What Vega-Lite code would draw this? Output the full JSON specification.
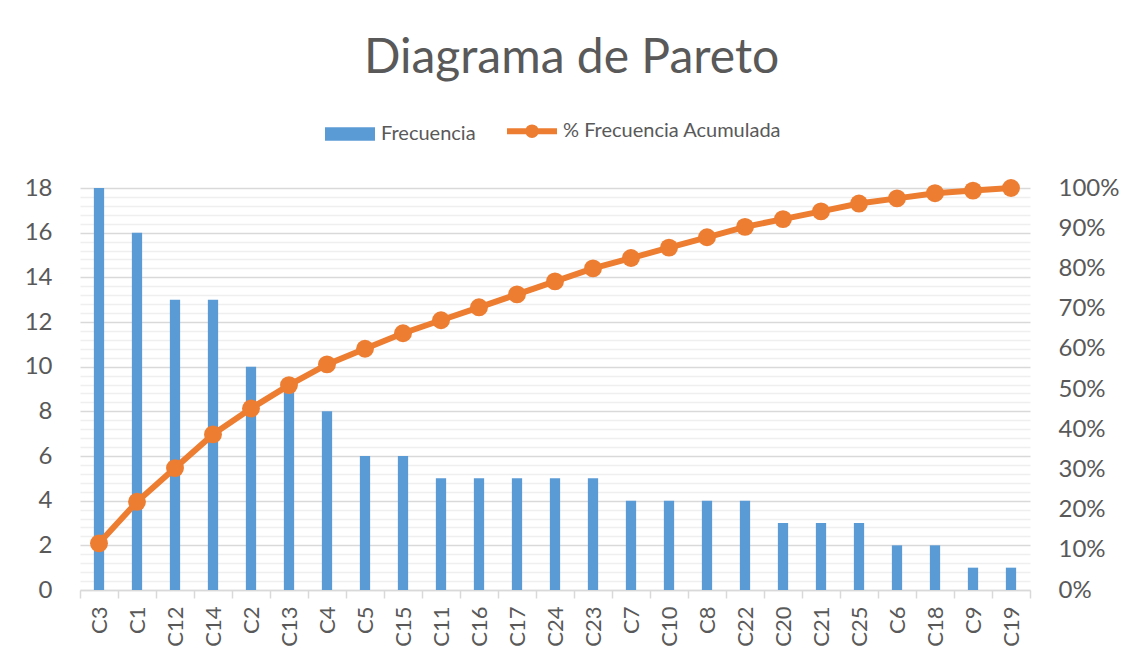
{
  "$schema": "https://vega.github.io/schema/vega-lite/v6.json",
  "autosize": "none",
  "width": 950,
  "height": 402,
  "padding": {"left": 80, "top": 188, "right": 104, "bottom": 78},
  "background": "white",
  "title": {"text": "Diagrama de Pareto", "font": "Lato", "fontSize": 48, "fontWeight": "normal", "color": "#595959", "anchor": "middle", "frame": "bounds", "offset": 38},
  "data": {"values": [
    {"cat": "C3", "freq": 18, "pct": 0.1161},
    {"cat": "C1", "freq": 16, "pct": 0.2194},
    {"cat": "C12", "freq": 13, "pct": 0.3032},
    {"cat": "C14", "freq": 13, "pct": 0.3871},
    {"cat": "C2", "freq": 10, "pct": 0.4516},
    {"cat": "C13", "freq": 9, "pct": 0.5097},
    {"cat": "C4", "freq": 8, "pct": 0.5613},
    {"cat": "C5", "freq": 6, "pct": 0.6},
    {"cat": "C15", "freq": 6, "pct": 0.6387},
    {"cat": "C11", "freq": 5, "pct": 0.671},
    {"cat": "C16", "freq": 5, "pct": 0.7032},
    {"cat": "C17", "freq": 5, "pct": 0.7355},
    {"cat": "C24", "freq": 5, "pct": 0.7677},
    {"cat": "C23", "freq": 5, "pct": 0.8},
    {"cat": "C7", "freq": 4, "pct": 0.8258},
    {"cat": "C10", "freq": 4, "pct": 0.8516},
    {"cat": "C8", "freq": 4, "pct": 0.8774},
    {"cat": "C22", "freq": 4, "pct": 0.9032},
    {"cat": "C20", "freq": 3, "pct": 0.9226},
    {"cat": "C21", "freq": 3, "pct": 0.9419},
    {"cat": "C25", "freq": 3, "pct": 0.9613},
    {"cat": "C6", "freq": 2, "pct": 0.9742},
    {"cat": "C18", "freq": 2, "pct": 0.9871},
    {"cat": "C9", "freq": 1, "pct": 0.9935},
    {"cat": "C19", "freq": 1, "pct": 1.0}
  ]},
  "encoding": {
    "x": {"field": "cat", "type": "nominal", "sort": null, "title": null,
      "scale": {"paddingInner": 0, "paddingOuter": 0},
      "axis": {"labelAngle": -90, "labelFont": "Lato", "labelFontSize": 22, "labelColor": "#595959", "labelPadding": 8,
        "domainColor": "#D9D9D9", "domainWidth": 1.5, "tickColor": "#D9D9D9", "tickWidth": 1.5, "tickSize": 8, "tickBand": "extent", "grid": false}}
  },
  "layer": [
    {
      "mark": {"type": "bar", "width": {"band": 0.27}, "color": "#5B9BD5"},
      "encoding": {
        "y": {"field": "freq", "type": "quantitative", "title": null,
          "scale": {"domain": [0, 18], "nice": false},
          "axis": {"orient": "left", "domain": false, "ticks": false, "labelFont": "Lato", "labelFontSize": 24, "labelColor": "#595959", "labelPadding": 28,
            "format": ".0f",
            "values": [0,0.4,0.8,1.2,1.6,2,2.4,2.8,3.2,3.6,4,4.4,4.8,5.2,5.6,6,6.4,6.8,7.2,7.6,8,8.4,8.8,9.2,9.6,10,10.4,10.8,11.2,11.6,12,12.4,12.8,13.2,13.6,14,14.4,14.8,15.2,15.6,16,16.4,16.8,17.2,17.6,18],
            "labelExpr": "datum.value % 2 === 0 ? datum.label : ''",
            "grid": true,
            "gridColor": {"condition": {"test": "datum.value % 2 === 0", "value": "#D9D9D9"}, "value": "#EFEFEF"},
            "gridWidth": 1.5}},
        "color": {"datum": "Frecuencia", "type": "nominal",
          "scale": {"domain": ["Frecuencia", "% Frecuencia Acumulada"], "range": ["#5B9BD5", "#ED7D31"]},
          "legend": {"title": null, "orient": "none", "direction": "horizontal", "legendX": 260, "legendY": -67,
            "labelFont": "Lato", "labelFontSize": 20, "labelColor": "#595959", "labelOffset": 21, "columnPadding": 19, "labelLimit": 500,
            "symbolSize": 2500,
            "encode": {"symbols": {"update": {
              "shape": {"signal": "datum.value === 'Frecuencia' ? 'M-1,-0.27H1V0.27H-1Z' : 'M-1,0H1M0.15,0A0.15,0.15 0 1 1 -0.15,0A0.15,0.15 0 1 1 0.15,0'"},
              "size": {"value": 2500},
              "fill": {"signal": "datum.value === 'Frecuencia' ? '#5B9BD5' : '#ED7D31'"},
              "stroke": {"signal": "datum.value === 'Frecuencia' ? '#5B9BD5' : '#ED7D31'"},
              "strokeWidth": {"signal": "datum.value === 'Frecuencia' ? 0 : 6"},
              "opacity": {"value": 1}, "fillOpacity": {"value": 1}, "strokeOpacity": {"value": 1}
            }}}}}
      }
    },
    {
      "mark": {"type": "line", "color": "#ED7D31", "strokeWidth": 6, "point": {"size": 320, "filled": true, "color": "#ED7D31", "opacity": 1}},
      "encoding": {
        "y": {"field": "pct", "type": "quantitative", "title": null,
          "scale": {"domain": [0, 1], "nice": false},
          "axis": {"orient": "right", "domain": false, "ticks": false, "grid": false, "format": ".0%",
            "values": [0,0.1,0.2,0.3,0.4,0.5,0.6,0.7,0.8,0.9,1],
            "labelFont": "Lato", "labelFontSize": 24, "labelColor": "#595959", "labelPadding": 28}},
        "color": {"datum": "% Frecuencia Acumulada", "type": "nominal"}
      }
    }
  ],
  "resolve": {"scale": {"y": "independent"}},
  "config": {"view": {"stroke": null}}
}
